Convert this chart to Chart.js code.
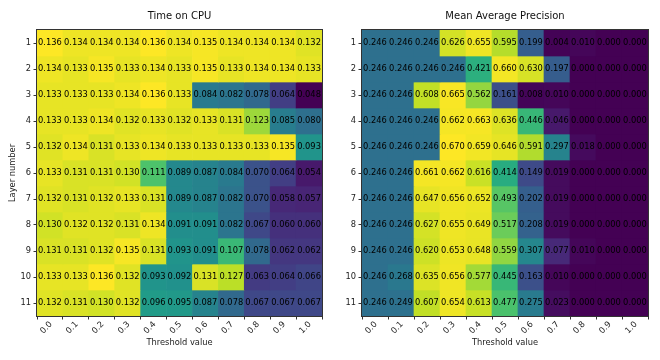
<!DOCTYPE html>
<html>
<head>
<meta charset="utf-8">
<script src="https://cdn.jsdelivr.net/npm/chart.js@4.4.1/dist/chart.umd.min.js"></script>
<style>
  body { margin: 0; background: #fff; }
  #wrap { width: 660px; height: 360px; display: flex; }
  canvas { display: block; }
</style>
</head>
<body>
<div id="wrap">
  <canvas id="cpu" width="330" height="360"></canvas>
  <canvas id="map" width="330" height="360"></canvas>
</div>
<script>
const thresholds = ['0.0', '0.1', '0.2', '0.3', '0.4', '0.5', '0.6', '0.7', '0.8', '0.9', '1.0'];
const layers = [1, 2, 3, 4, 5, 6, 7, 8, 9, 10, 11];

// rows = layer 1..11, columns = threshold 0.0..1.0
const cpuTime = [
  [0.136, 0.134, 0.134, 0.134, 0.136, 0.134, 0.135, 0.134, 0.134, 0.134, 0.132],
  [0.134, 0.133, 0.135, 0.133, 0.134, 0.133, 0.135, 0.133, 0.134, 0.134, 0.133],
  [0.133, 0.133, 0.133, 0.134, 0.136, 0.133, 0.084, 0.082, 0.078, 0.064, 0.048],
  [0.133, 0.133, 0.134, 0.132, 0.133, 0.132, 0.133, 0.131, 0.123, 0.085, 0.080],
  [0.132, 0.134, 0.131, 0.133, 0.134, 0.133, 0.133, 0.133, 0.133, 0.135, 0.093],
  [0.133, 0.131, 0.131, 0.130, 0.111, 0.089, 0.087, 0.084, 0.070, 0.064, 0.054],
  [0.132, 0.131, 0.132, 0.133, 0.131, 0.089, 0.087, 0.082, 0.070, 0.058, 0.057],
  [0.130, 0.132, 0.132, 0.131, 0.134, 0.091, 0.091, 0.082, 0.067, 0.060, 0.060],
  [0.131, 0.131, 0.132, 0.135, 0.131, 0.093, 0.091, 0.107, 0.078, 0.062, 0.062],
  [0.133, 0.133, 0.136, 0.132, 0.093, 0.092, 0.131, 0.127, 0.063, 0.064, 0.066],
  [0.132, 0.131, 0.130, 0.132, 0.096, 0.095, 0.087, 0.078, 0.067, 0.067, 0.067]
];

const meanAvgPrecision = [
  [0.246, 0.246, 0.246, 0.626, 0.655, 0.595, 0.199, 0.004, 0.010, 0.000, 0.000],
  [0.246, 0.246, 0.246, 0.246, 0.421, 0.660, 0.630, 0.197, 0.000, 0.000, 0.000],
  [0.246, 0.246, 0.608, 0.665, 0.562, 0.161, 0.008, 0.010, 0.000, 0.000, 0.000],
  [0.246, 0.246, 0.246, 0.662, 0.663, 0.636, 0.446, 0.046, 0.000, 0.000, 0.000],
  [0.246, 0.246, 0.246, 0.670, 0.659, 0.646, 0.591, 0.297, 0.018, 0.000, 0.000],
  [0.246, 0.246, 0.661, 0.662, 0.616, 0.414, 0.149, 0.019, 0.000, 0.000, 0.000],
  [0.246, 0.246, 0.647, 0.656, 0.652, 0.493, 0.202, 0.019, 0.000, 0.000, 0.000],
  [0.246, 0.246, 0.627, 0.655, 0.649, 0.517, 0.208, 0.019, 0.000, 0.000, 0.000],
  [0.246, 0.246, 0.620, 0.653, 0.648, 0.559, 0.307, 0.077, 0.010, 0.000, 0.000],
  [0.246, 0.268, 0.635, 0.656, 0.577, 0.445, 0.163, 0.010, 0.000, 0.000, 0.000],
  [0.246, 0.249, 0.607, 0.654, 0.613, 0.477, 0.275, 0.023, 0.000, 0.000, 0.000]
];

// viridis colour stops at 0, 0.1, ... 1
const viridisStops = ['#440154', '#482475', '#414487', '#355f8d', '#2a788e', '#21918c',
                      '#22a884', '#44bf70', '#7ad151', '#bddf26', '#fde725'];

function viridis(t) {
  t = Math.max(0, Math.min(1, t));
  const p = t * (viridisStops.length - 1);
  const i = Math.min(Math.floor(p), viridisStops.length - 2);
  const f = p - i;
  const a = parseInt(viridisStops[i].slice(1), 16);
  const b = parseInt(viridisStops[i + 1].slice(1), 16);
  const mix = sh => Math.round(((a >> sh) & 255) * (1 - f) + ((b >> sh) & 255) * f);
  return 'rgb(' + mix(16) + ',' + mix(8) + ',' + mix(0) + ')';
}

Chart.defaults.font.family = '"DejaVu Sans", sans-serif';
Chart.defaults.color = '#222';

const small = 8.3;

function heatmap(id, title, values, yTitle, yWidth, padRight) {
  const flat = values.flat();
  const lo = Math.min(...flat);
  const hi = Math.max(...flat);

  const cellText = {
    id: 'cellText',
    afterDatasetsDraw(chart) {
      const { ctx, scales: { x, y } } = chart;
      ctx.save();
      ctx.font = small + 'px "DejaVu Sans"';
      ctx.fillStyle = '#000';
      ctx.textAlign = 'center';
      ctx.textBaseline = 'middle';
      values.forEach((row, r) => {
        row.forEach((v, c) => {
          ctx.fillText(v.toFixed(3), x.getPixelForValue(c), y.getPixelForValue(layers[r]));
        });
      });
      ctx.restore();
    }
  };

  const frame = {
    id: 'frame',
    afterDraw(chart) {
      const a = chart.chartArea;
      const ctx = chart.ctx;
      ctx.save();
      ctx.strokeStyle = '#333';
      ctx.lineWidth = 1;
      ctx.strokeRect(Math.round(a.left) - 0.5, Math.round(a.top) - 0.5,
                     Math.round(a.right - a.left) + 1, Math.round(a.bottom - a.top) + 1);
      ctx.restore();
    }
  };

  return new Chart(document.getElementById(id), {
    type: 'bar',
    data: {
      labels: thresholds,
      datasets: layers.map((layer, r) => ({
        label: 'Layer ' + layer,
        data: thresholds.map(() => [layer - 0.5, layer + 0.5]),
        backgroundColor: c => viridis((values[r][c.dataIndex] - lo) / (hi - lo)),
        borderWidth: 0,
        barPercentage: 1,
        categoryPercentage: 1,
        grouped: false
      }))
    },
    options: {
      responsive: false,
      animation: false,
      events: [],
      layout: { padding: { left: 0, right: padRight, top: 0, bottom: 8 } },
      plugins: {
        legend: { display: false },
        tooltip: { enabled: false },
        title: {
          display: true,
          text: title,
          fullSize: false,
          color: '#111',
          font: { size: 10, weight: 'normal' },
          padding: { top: 10, bottom: 8 }
        }
      },
      scales: {
        x: {
          grid: { drawOnChartArea: false, drawTicks: true, tickLength: 3.5, color: '#333' },
          border: { display: false },
          ticks: { font: { size: small }, minRotation: 45, maxRotation: 45, padding: 0, labelOffset: 1, color: '#222' },
          title: { display: true, text: 'Threshold value', font: { size: small }, padding: { top: 0, bottom: 4 }, color: '#222' },
          afterFit: s => { s.height = 36; }
        },
        y: {
          type: 'linear',
          reverse: true,
          min: 0.5,
          max: 11.5,
          afterBuildTicks: s => { s.ticks = layers.map(v => ({ value: v })); },
          grid: { drawOnChartArea: false, drawTicks: true, tickLength: 3.5, color: '#333' },
          border: { display: false },
          ticks: { font: { size: small }, padding: 2.5, color: '#222' },
          title: { display: !!yTitle, text: yTitle, font: { size: small }, padding: { top: 8, bottom: 0 }, color: '#222' },
          afterFit: s => { s.width = yWidth; }
        }
      }
    },
    plugins: [cellText, frame]
  });
}

heatmap('cpu', 'Time on CPU', cpuTime, 'Layer number', 37, 8);
heatmap('map', 'Mean Average Precision', meanAvgPrecision, '', 32, 12);
</script>
</body>
</html>
